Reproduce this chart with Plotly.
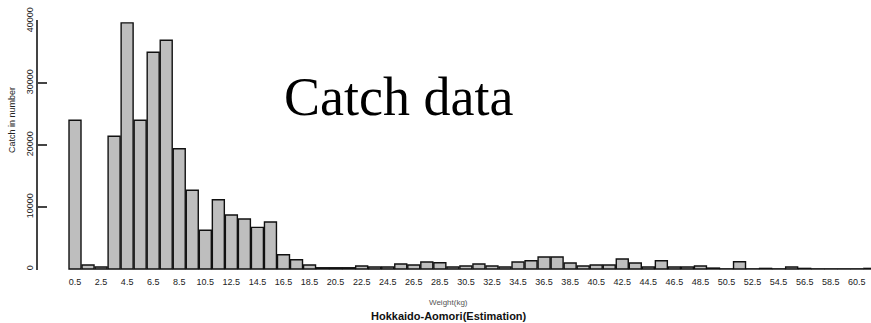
import plotly.graph_objects as go

# Data
weights = [i + 0.5 for i in range(62)]
catch = [24000, 645, 320, 21400, 39700, 24000, 34950, 36900, 19400, 12700,
         6240, 11180, 8710, 8065, 6720, 7580, 2310, 1500, 645, 200,
         200, 200, 480, 320, 320, 800, 645, 1130, 1020, 320,
         480, 800, 480, 320, 1130, 1340, 1935, 1935, 970, 480,
         645, 645, 1610, 970, 320, 1340, 320, 320, 480, 150,
         30, 1180, 30, 100, 30, 320, 100, 30, 30, 30,
         30, 100]
tick_vals = [i + 0.5 for i in range(0, 61, 2)]
tick_text = ["%.1f" % v for v in tick_vals]
y_ticks = [0, 10000, 20000, 30000, 40000]

W, H = 871, 323
L, R, T, B = 38, 0, 20, 53
pw, ph = W - L - R, H - T - B


def px(xp):
    return (xp - L) / pw


def py(yp):
    return (H - B - yp) / ph


fig = go.Figure()
fig.add_trace(go.Bar(
    x=weights, y=catch, width=0.92,
    marker=dict(color="#BEBEBE", line=dict(color="#111111", width=1.4)),
))

fig.update_layout(
    width=W, height=H,
    margin=dict(l=L, r=R, t=T, b=B),
    paper_bgcolor="white", plot_bgcolor="white",
    showlegend=False,
    font=dict(family="Liberation Sans, Arial", color="#222222"),
    xaxis=dict(
        range=[-2.34, 61.59],
        tickvals=tick_vals, ticktext=tick_text,
        tickfont=dict(size=9, color="#222222"),
        showgrid=False, zeroline=False, showline=False,
        ticks="outside", ticklen=3, tickcolor="rgba(0,0,0,0)",
    ),
    yaxis=dict(
        range=[-161, 40161],
        tickvals=y_ticks, ticktext=[str(v) for v in y_ticks],
        tickangle=-90,
        tickfont=dict(size=9, color="#222222"),
        showgrid=False, zeroline=False,
        showline=True, linecolor="#444444", linewidth=1.5,
        ticks="inside", ticklen=9, tickwidth=1.5, tickcolor="#444444",
    ),
)

fig.add_annotation(
    text="Catch data", x=px(398), y=py(97), xref="paper", yref="paper",
    showarrow=False, xanchor="center", yanchor="middle",
    font=dict(family="Liberation Serif, Times New Roman", size=54, color="black"),
)
fig.add_annotation(
    text="Catch in number", x=px(12), y=py(120), xref="paper", yref="paper",
    showarrow=False, textangle=-90, xanchor="center", yanchor="middle",
    font=dict(size=9, color="#222222"),
)
fig.add_annotation(
    text="Weight(kg)", x=px(448), y=py(302), xref="paper", yref="paper",
    showarrow=False, xanchor="center", yanchor="middle",
    font=dict(size=8, color="#555555"),
)
fig.add_annotation(
    text="<b>Hokkaido-Aomori(Estimation)</b>", x=px(449), y=py(316), xref="paper", yref="paper",
    showarrow=False, xanchor="center", yanchor="middle",
    font=dict(size=11, color="#111111"),
)

fig.write_html("out.html")
